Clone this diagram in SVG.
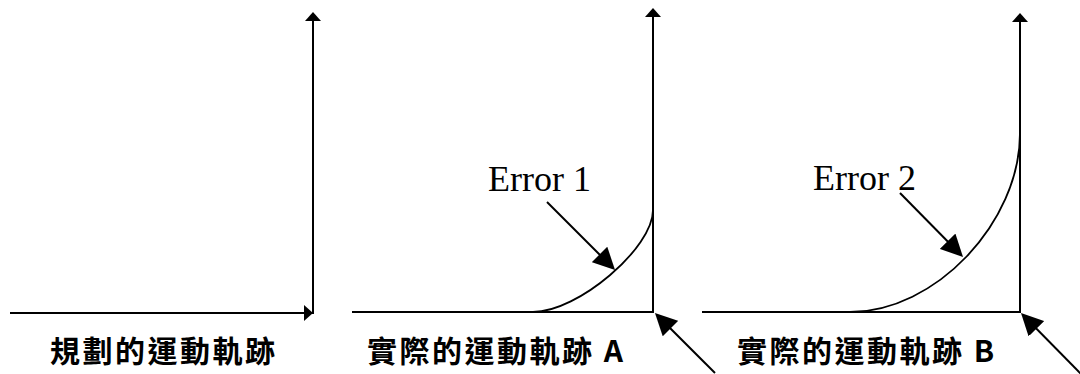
<svg xmlns="http://www.w3.org/2000/svg" width="1080" height="374" viewBox="0 0 1080 374">
<style>
.ln{stroke:#000;stroke-width:2;fill:none}
.cv{stroke:#000;stroke-width:1.8;fill:none}
.lab{font-family:"Noto Sans CJK TC","Noto Sans CJK SC",sans-serif;font-size:30px;font-weight:bold;letter-spacing:2.5px;fill:#000}
.err{font-family:"Liberation Serif","Times New Roman",serif;font-size:36px;fill:#000}
</style>
<defs>
<marker id="ax" markerUnits="userSpaceOnUse" markerWidth="9" markerHeight="16" viewBox="0 0 9 16" refX="6" refY="8" orient="auto"><path d="M0,0 L9,8 L0,16 z" fill="#000"/></marker>
<marker id="pt" markerUnits="userSpaceOnUse" markerWidth="22" markerHeight="22" viewBox="0 0 22 22" refX="16" refY="11" orient="auto"><path d="M0,0 L22,11 L0,22 z" fill="#000"/></marker>
</defs>
<g id="panel1">
<line class="ln" x1="313" y1="314" x2="313" y2="15" marker-end="url(#ax)"/>
<line class="ln" x1="10" y1="313" x2="310" y2="313" marker-end="url(#ax)"/>
<text class="lab" x="50" y="362">規劃的運動軌跡</text>
</g>
<g id="panel2">
<line class="ln" x1="653" y1="313" x2="653" y2="11" marker-end="url(#ax)"/>
<line class="ln" x1="352" y1="312" x2="654" y2="312"/>
<path class="cv" d="M533,312 C578,312 653,248 653,210"/>
<text class="err" x="488" y="191">Error 1</text>
<text class="lab" x="367" y="362">實際的運動軌跡 A</text>
</g>
<g id="panel3">
<line class="ln" x1="1020" y1="313" x2="1020" y2="16" marker-end="url(#ax)"/>
<line class="ln" x1="702" y1="312" x2="1021" y2="312"/>
<path class="cv" d="M850,312 C935,312 1020,223 1020,133"/>
<text class="err" x="813" y="190">Error 2</text>
<text class="lab" x="737" y="362">實際的運動軌跡 B</text>
</g>
<g id="connectors">
<line class="ln" x1="547" y1="202" x2="610.8" y2="265.8" marker-end="url(#pt)"/>
<line class="ln" x1="900" y1="193" x2="958.8" y2="252.7" marker-end="url(#pt)"/>
<line class="ln" x1="715" y1="373" x2="659.2" y2="317.2" marker-end="url(#pt)"/>
<line class="ln" x1="1082" y1="375" x2="1025.2" y2="317.3" marker-end="url(#pt)"/>
</g>
</svg>
